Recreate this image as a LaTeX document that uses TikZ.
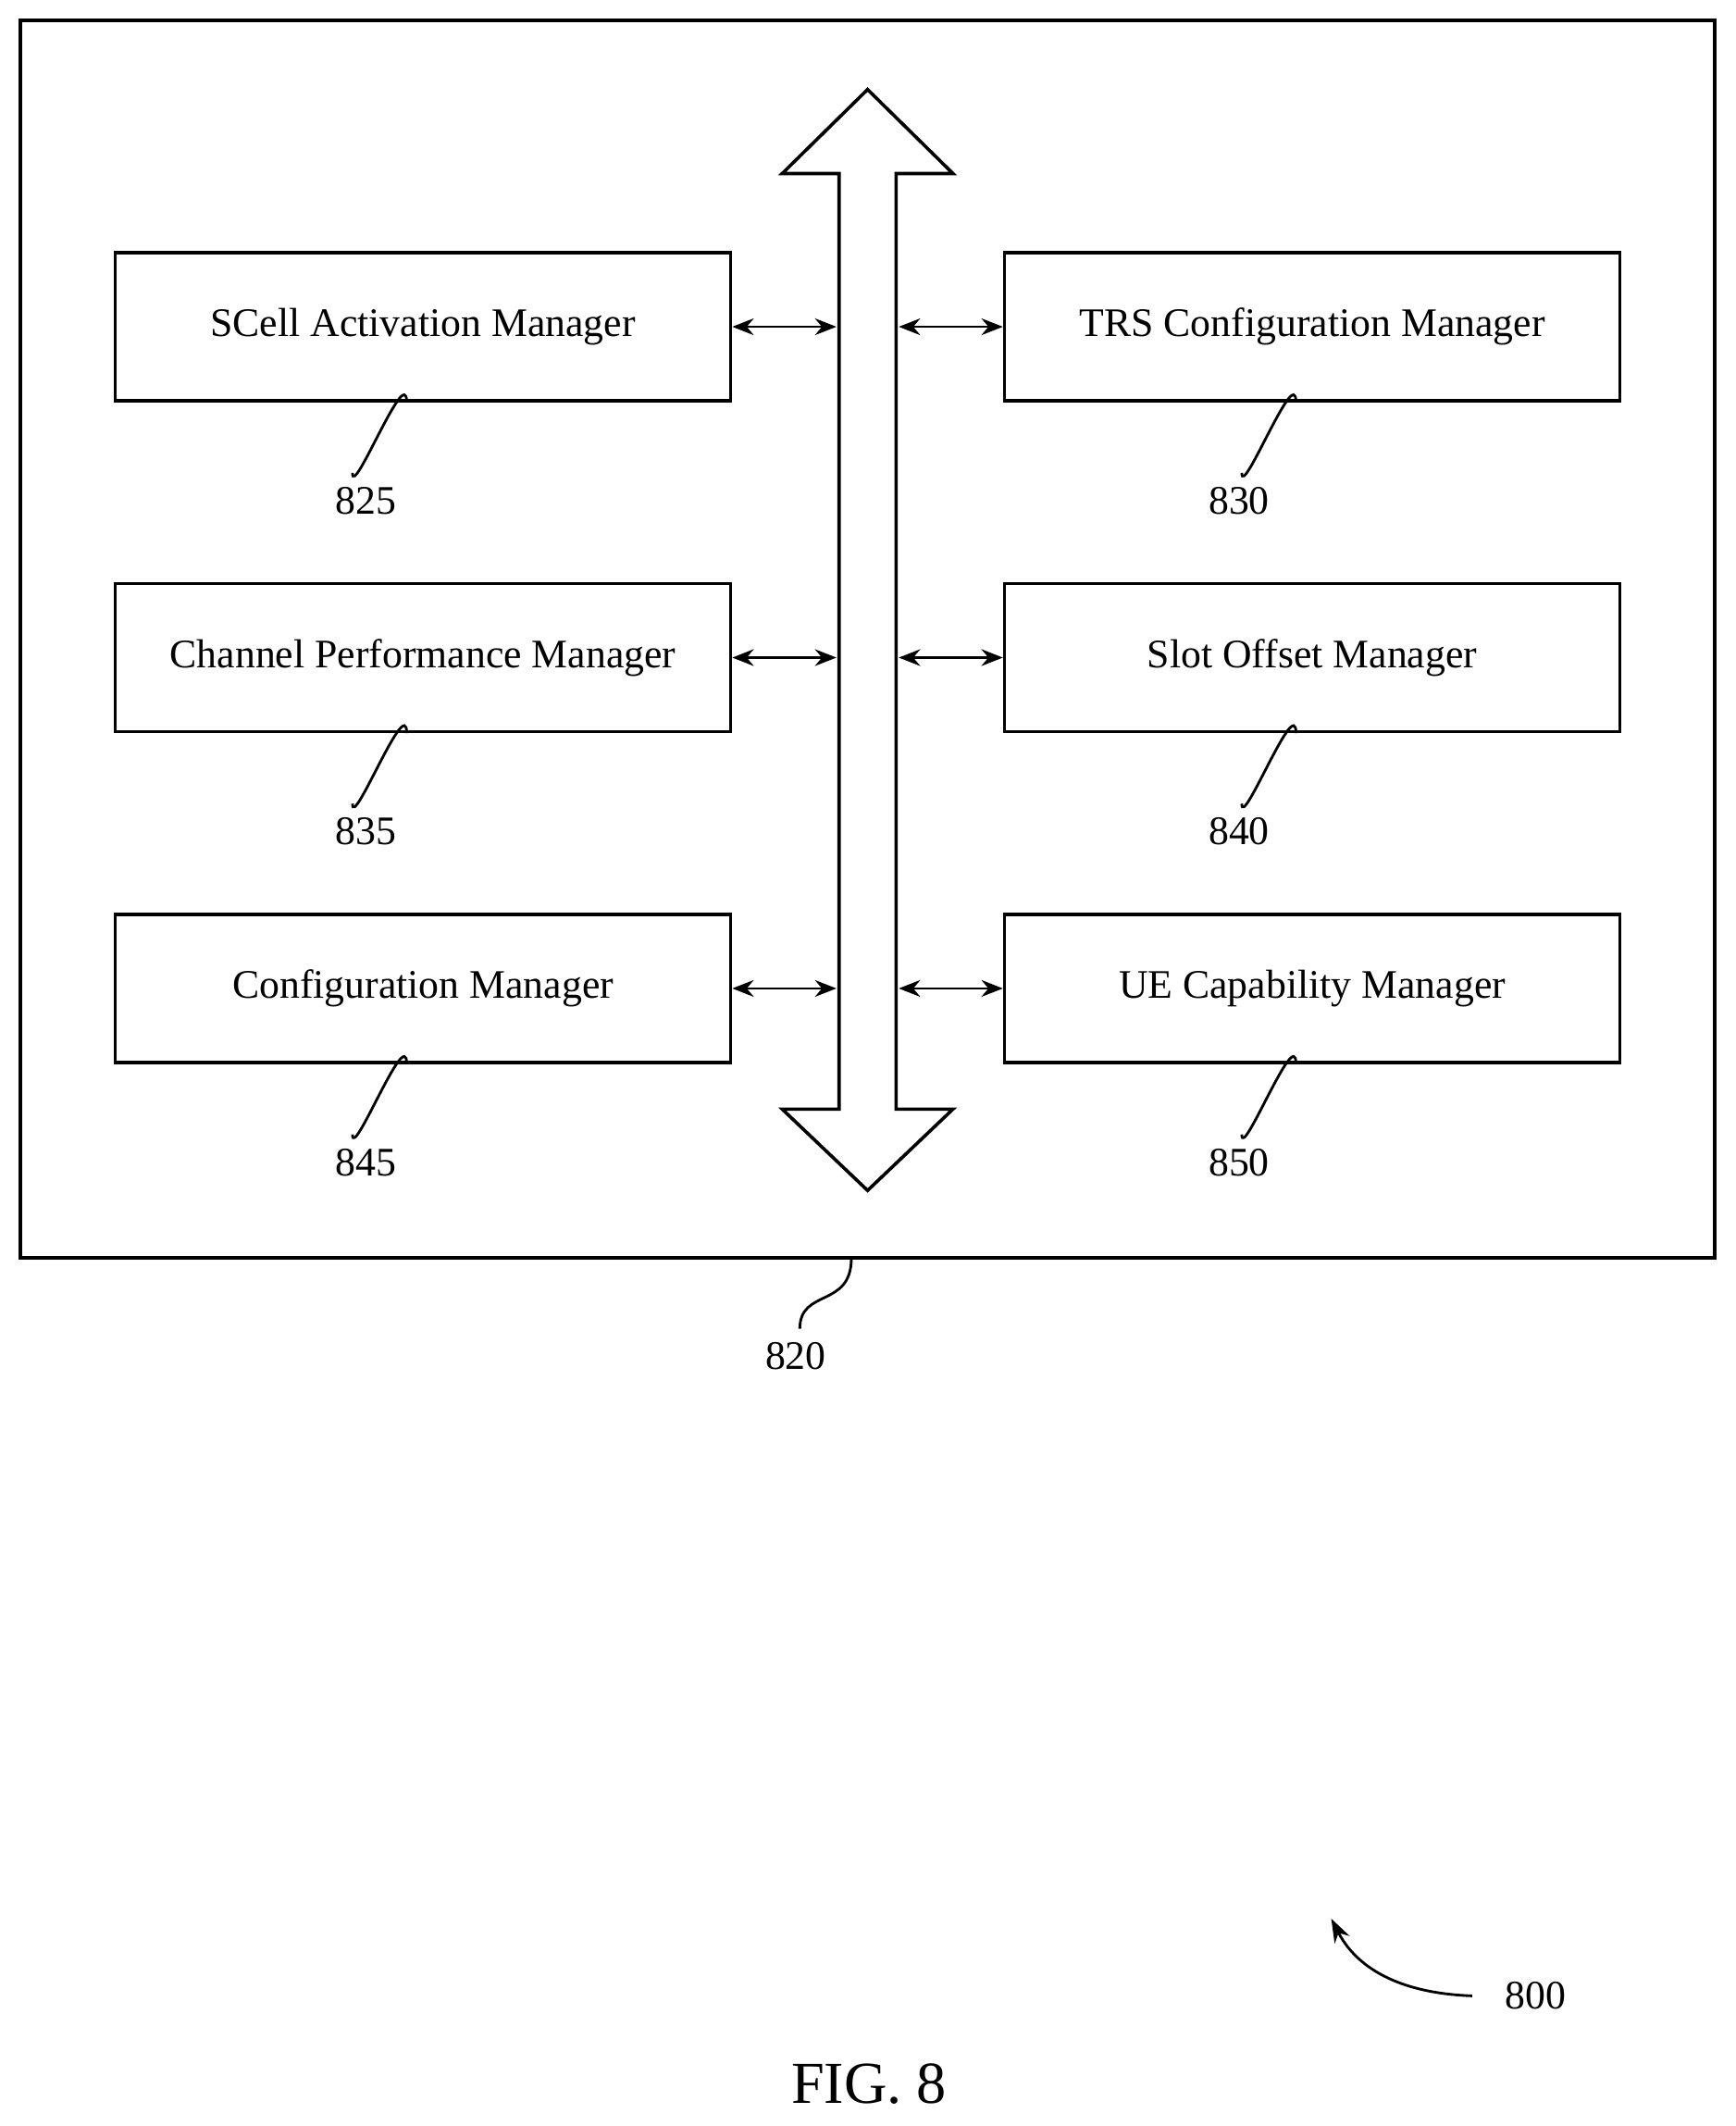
\documentclass[tikz,border=0pt]{standalone}
\usepackage{fontspec}
\setmainfont{Liberation Serif}
\usetikzlibrary{arrows.meta}
\begin{document}
\begin{tikzpicture}[x=0.02cm,y=-0.02cm,
  box/.style={draw,line width=1.4pt,minimum width=9.08cm,minimum height=2.18cm,inner sep=0pt,font=\fontsize{17}{20}\selectfont},
  lbl/.style={font=\fontsize{17}{20}\selectfont},
  sq/.style={line width=1.1pt},
  dar/.style={line width=1.1pt,{Stealth[length=9pt,width=7pt]}-{Stealth[length=9pt,width=7pt]}}]
\useasboundingbox (0,0) rectangle (1280,1568);
\node[draw,line width=1.6pt,minimum width=25cm,minimum height=18.26cm,inner sep=0pt] (outer) at (640,471.5) {};
\draw[line width=1.4pt] (619,818) -- (619,128) -- (577,128) -- (640,66) -- (703,128) -- (661,128) -- (661,818) -- (703,818) -- (640,878) -- (577,818) -- cycle;
\coordinate (bl) at (619,0); \coordinate (br) at (661,0);
\foreach \n/\t/\y in {a/SCell Activation Manager/241,b/Channel Performance Manager/485,c/Configuration Manager/729}{
  \node[box] (\n) at (312,\y) {\t};
  \coordinate (\n e) at (617,\y);
  \draw[dar] (\n.east) -- (\n e);}
\foreach \n/\t/\y in {d/TRS Configuration Manager/241,e/Slot Offset Manager/485,f/UE Capability Manager/729}{
  \node[box] (\n) at (968,\y) {\t};
  \coordinate (\n w) at (663,\y);
  \draw[dar] (\n.west) -- (\n w);}
\foreach \n/\num in {a/825,b/835,c/845}{
  \node[lbl] (l\num) at ([xshift=-0.84cm,yshift=-1.45cm]\n.south) {\num};
  \draw[sq] ([xshift=-0.24cm]\n.south) .. controls +(0,-30) and +(0,20) .. ([xshift=-1.04cm,yshift=-1.04cm]\n.south);}
\foreach \n/\num in {d/830,e/840,f/850}{
  \node[lbl] (l\num) at ([xshift=-1.08cm,yshift=-1.45cm]\n.south) {\num};
  \draw[sq] ([xshift=-0.24cm]\n.south) .. controls +(0,-30) and +(0,20) .. ([xshift=-1.04cm,yshift=-1.04cm]\n.south);}
\node[lbl] (l820) at (587,1000) {820};
\draw[sq] (628,928) .. controls (628,965) and (590,950) .. (590,980);
\node[lbl] (l800) at (1133,1472) {800};
\coordinate (t800) at (982,1415);
\draw[line width=1.1pt,-{Stealth[length=10pt,width=7pt]}] (1086,1472) .. controls (1030,1470) and (1000,1450) .. (t800);
\node[font=\fontsize{25}{30}\selectfont] (fig) at (641,1537) {FIG. 8};
\end{tikzpicture}
\end{document}
